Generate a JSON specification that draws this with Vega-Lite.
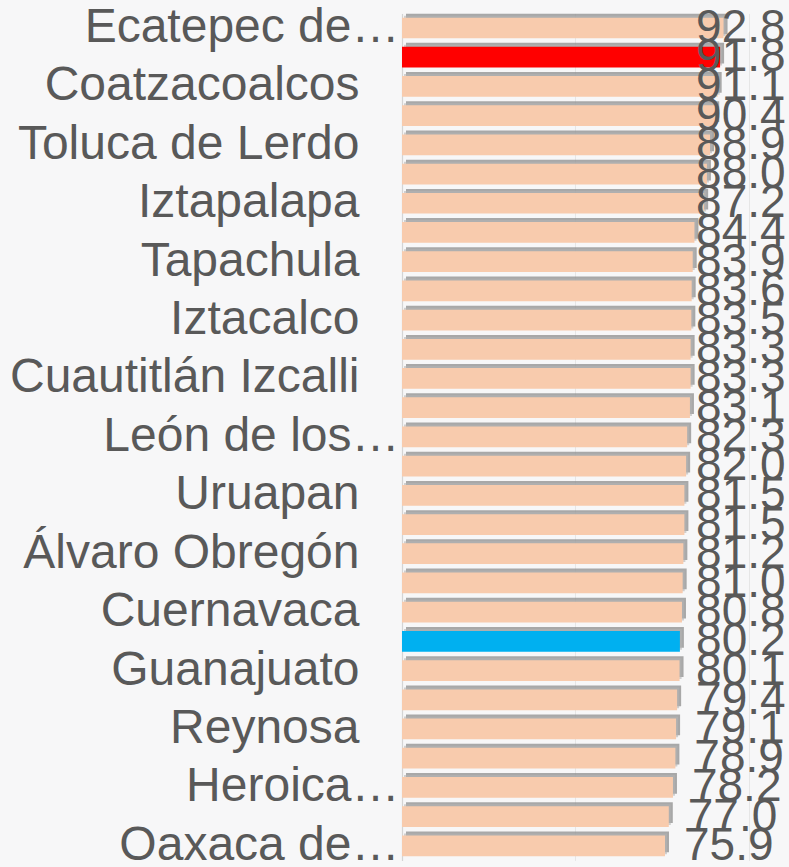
{
  "$schema": "https://vega.github.io/schema/vega-lite/v6.json",
  "width": 346.5,
  "height": 847,
  "autosize": {"type": "none"},
  "padding": {"left": 402, "top": 13.4, "right": 40.5, "bottom": 6.6},
  "background": "#F7F7F8",
  "config": {
    "view": {"stroke": null},
    "font": "Liberation Sans"
  },
  "data": {
    "values": [
      {"ciudad": "Ecatepec de…", "valor": 92.8},
      {"ciudad": "Fresnillo", "valor": 91.8},
      {"ciudad": "Coatzacoalcos", "valor": 91.1},
      {"ciudad": "Irapuato", "valor": 90.4},
      {"ciudad": "Toluca de Lerdo", "valor": 88.9},
      {"ciudad": "Zacatecas", "valor": 88.0},
      {"ciudad": "Iztapalapa", "valor": 87.2},
      {"ciudad": "Villahermosa", "valor": 84.4},
      {"ciudad": "Tapachula", "valor": 83.9},
      {"ciudad": "Gustavo A. Madero", "valor": 83.6},
      {"ciudad": "Iztacalco", "valor": 83.5},
      {"ciudad": "Cancún", "valor": 83.3},
      {"ciudad": "Cuautitlán Izcalli", "valor": 83.3},
      {"ciudad": "Chilpancingo de los Bravo", "valor": 83.1},
      {"ciudad": "León de los…", "valor": 82.3},
      {"ciudad": "Naucalpan de Juárez", "valor": 82.0},
      {"ciudad": "Uruapan", "valor": 81.5},
      {"ciudad": "Tlalnepantla de Baz", "valor": 81.5},
      {"ciudad": "Álvaro Obregón", "valor": 81.2},
      {"ciudad": "Morelia", "valor": 81.0},
      {"ciudad": "Cuernavaca", "valor": 80.8},
      {"ciudad": "Nacional", "valor": 80.2},
      {"ciudad": "Guanajuato", "valor": 80.1},
      {"ciudad": "Acapulco de Juárez", "valor": 79.4},
      {"ciudad": "Reynosa", "valor": 79.1},
      {"ciudad": "Puebla de Zaragoza", "valor": 78.9},
      {"ciudad": "Heroica…", "valor": 78.2},
      {"ciudad": "Tlaxcala de Xicohténcatl", "valor": 77.0},
      {"ciudad": "Oaxaca de…", "valor": 75.9}
    ]
  },
  "encoding": {
    "y": {
      "field": "ciudad",
      "type": "nominal",
      "sort": null,
      "scale": {"paddingInner": 0.29, "paddingOuter": 0.145},
      "axis": {
        "title": null,
        "values": ["Ecatepec de…", "Coatzacoalcos", "Toluca de Lerdo", "Iztapalapa", "Tapachula", "Iztacalco", "Cuautitlán Izcalli", "León de los…", "Uruapan", "Álvaro Obregón", "Cuernavaca", "Guanajuato", "Reynosa", "Heroica…", "Oaxaca de…"],
        "labelExpr": "indexof(datum.label, '…') >= 0 ? datum.label : datum.label + '\u00a0\u00a0\u00a0\u200b'",
        "labelFontSize": 48,
        "labelColor": "#595959",
        "labelFont": "Liberation Sans",
        "labelPadding": 3,
        "labelLimit": 500,
        "labelOverlap": false,
        "ticks": false,
        "domain": true,
        "domainColor": "#D4D4D4",
        "domainWidth": 1.2
      }
    }
  },
  "layer": [
    {
      "mark": {"type": "bar", "color": "#8E8E8E", "opacity": 0.75, "yOffset": -4, "xOffset": 4},
      "encoding": {
        "x": {
          "field": "valor",
          "type": "quantitative",
          "scale": {"domain": [0, 100]},
          "axis": {"title": null, "labels": false, "ticks": false, "domain": false, "grid": true, "values": [0, 50, 100], "gridColor": "#E6E6E6", "gridWidth": 1}
        }
      }
    },
    {
      "mark": {"type": "bar", "color": "#B4B4B4", "opacity": 0.6, "yOffset": -2, "xOffset": 2},
      "encoding": {
        "x": {"field": "valor", "type": "quantitative", "scale": {"domain": [0, 100]}, "axis": null}
      }
    },
    {
      "mark": {"type": "bar"},
      "encoding": {
        "x": {"field": "valor", "type": "quantitative", "scale": {"domain": [0, 100]}, "axis": null},
        "color": {
          "condition": [
            {"test": "datum.ciudad === 'Fresnillo'", "value": "#FF0000"},
            {"test": "datum.ciudad === 'Nacional'", "value": "#00B0F0"}
          ],
          "value": "#F8CBAD"
        }
      }
    },
    {
      "mark": {"type": "text", "align": "left", "baseline": "middle", "dx": 19, "fontSize": 46, "color": "#595959", "font": "Liberation Sans"},
      "encoding": {
        "x": {
          "field": "valor",
          "type": "quantitative",
          "scale": {"domain": [0, 79.4], "range": [0, 275.1], "clamp": true},
          "axis": null
        },
        "text": {"field": "valor", "type": "quantitative", "format": ".1f"}
      }
    }
  ],
  "resolve": {"scale": {"x": "independent"}}
}
